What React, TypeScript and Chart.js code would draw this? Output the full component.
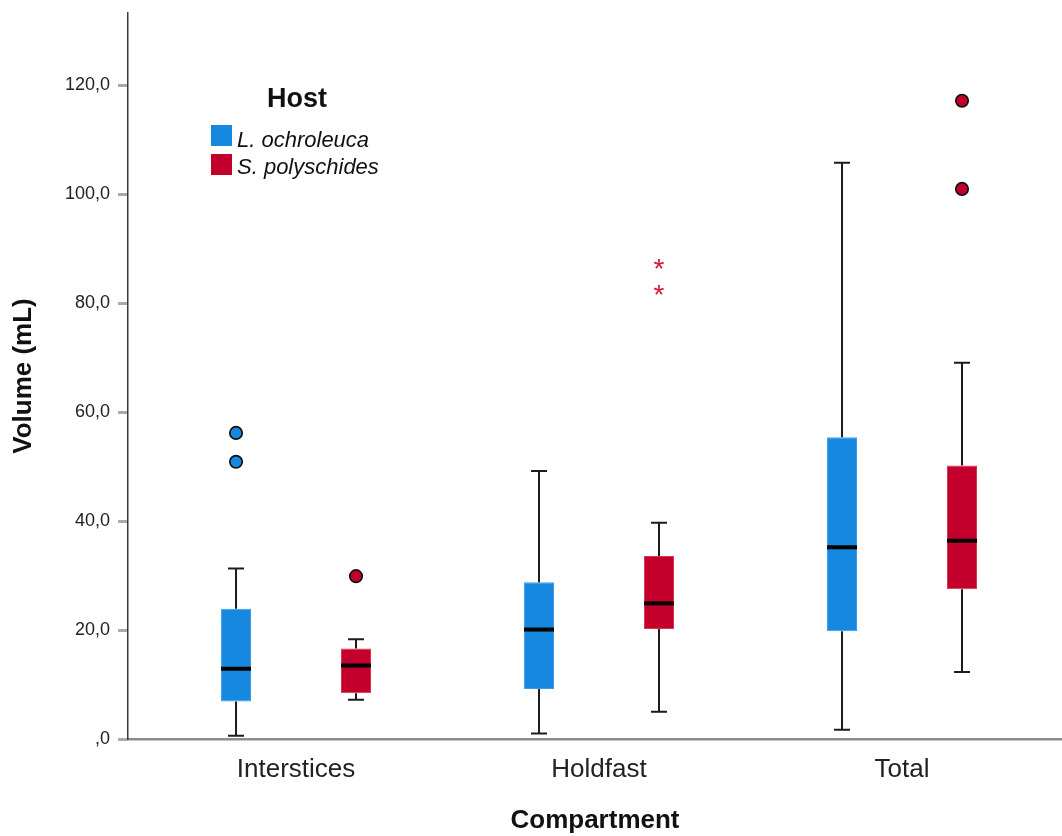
import React, { useEffect, useRef } from 'react';
import { Chart, registerables } from 'chart.js';

Chart.register(...registerables);

// ---- Data ----
const categories = ['Interstices', 'Holdfast', 'Total'];
const hostLabels = ['L. ochroleuca', 'S. polyschides'];

const lochMin = [0.6, 1.0, 1.7];
const lochQ1 = [6.9, 9.2, 19.8];
const lochMedian = [12.9, 20.1, 35.2];
const lochQ3 = [23.9, 28.8, 55.4];
const lochMax = [31.3, 49.2, 105.8];
const lochOutliers = [[56.2, 50.9], [], []];
const lochExtremes = [[], [], []];

const spolMin = [7.2, 5.0, 12.3];
const spolQ1 = [8.4, 20.2, 27.5];
const spolMedian = [13.5, 24.9, 36.4];
const spolQ3 = [16.6, 33.6, 50.2];
const spolMax = [18.3, 39.7, 69.1];
const spolOutliers = [[29.9], [], [117.2, 101.0]];
const spolExtremes = [[], [87.2, 82.4], []];

const yTicks = [0, 20, 40, 60, 80, 100, 120];

// ---- Styles ----
const FONT = '"Liberation Sans", Arial, Helvetica, sans-serif';
const BLUE = '#1788df';
const BLUE_EDGE = '#3d9ce8';
const RED = '#c3002b';
const RED_EDGE = '#d8334f';
const STAR_RED = '#d3173d';

const series = [
  { label: hostLabels[0], color: BLUE, edge: BLUE_EDGE, min: lochMin, q1: lochQ1, med: lochMedian, q3: lochQ3, max: lochMax, out: lochOutliers, ext: lochExtremes },
  { label: hostLabels[1], color: RED, edge: RED_EDGE, min: spolMin, q1: spolQ1, med: spolMedian, q3: spolQ3, max: spolMax, out: spolOutliers, ext: spolExtremes },
];

const boxExtras = {
  id: 'boxExtras',
  afterDatasetsDraw(chart: any) {
    const ctx = chart.ctx;
    const ys = chart.scales.y;
    series.forEach((s, di) => {
      const meta = chart.getDatasetMeta(di);
      meta.data.forEach((bar: any, i: number) => {
        const { x, width } = bar.getProps(['x', 'width'], true);
        const pMin = ys.getPixelForValue(s.min[i]);
        const pMax = ys.getPixelForValue(s.max[i]);
        const pQ1 = ys.getPixelForValue(s.q1[i]);
        const pQ3 = ys.getPixelForValue(s.q3[i]);
        const pMed = ys.getPixelForValue(s.med[i]);
        const cap = 8;
        ctx.save();
        ctx.strokeStyle = '#1c1c1c';
        ctx.lineWidth = 2;
        ctx.lineCap = 'butt';
        ctx.beginPath();
        ctx.moveTo(x, pQ3); ctx.lineTo(x, pMax);
        ctx.moveTo(x - cap, pMax); ctx.lineTo(x + cap, pMax);
        ctx.moveTo(x, pQ1); ctx.lineTo(x, pMin);
        ctx.moveTo(x - cap, pMin); ctx.lineTo(x + cap, pMin);
        ctx.stroke();
        // median
        ctx.strokeStyle = '#000';
        ctx.lineWidth = 4;
        ctx.beginPath();
        ctx.moveTo(x - width / 2, pMed); ctx.lineTo(x + width / 2, pMed);
        ctx.stroke();
        // outliers (circles)
        s.out[i].forEach((v: number) => {
          const py = ys.getPixelForValue(v);
          ctx.beginPath();
          ctx.arc(x, py, 6.2, 0, Math.PI * 2);
          ctx.fillStyle = s.color;
          ctx.fill();
          ctx.lineWidth = 1.7;
          ctx.strokeStyle = '#111';
          ctx.stroke();
        });
        // extremes (asterisks)
        s.ext[i].forEach((v: number) => {
          const py = ys.getPixelForValue(v);
          ctx.font = '28px ' + FONT;
          ctx.fillStyle = STAR_RED;
          ctx.textAlign = 'center';
          ctx.textBaseline = 'alphabetic';
          const m = ctx.measureText('*');
          const off = (m.actualBoundingBoxAscent - m.actualBoundingBoxDescent) / 2;
          ctx.fillText('*', x, py + off);
        });
        ctx.restore();
      });
    });
  },
  afterDraw(chart: any) {
    const ctx = chart.ctx;
    ctx.save();
    ctx.fillStyle = '#111';
    ctx.font = 'bold 27px ' + FONT;
    ctx.textAlign = 'left';
    ctx.textBaseline = 'alphabetic';
    ctx.fillText('Host', 267, 106.5);
    const rows = [
      { y: 125, base: 146.5 },
      { y: 154, base: 174 },
    ];
    series.forEach((s, i) => {
      ctx.fillStyle = s.color;
      ctx.fillRect(211, rows[i].y, 21, 21);
      ctx.fillStyle = '#111';
      ctx.font = 'italic 22px ' + FONT;
      ctx.fillText(s.label, 237, rows[i].base);
    });
    ctx.restore();
  },
};

export default function App() {
  const ref = useRef<HTMLCanvasElement | null>(null);

  useEffect(() => {
    if (!ref.current) return;
    const chart = new Chart(ref.current, {
      type: 'bar',
      data: {
        datasets: series.map((s) => ({
          label: s.label,
          data: categories.map((_, i) => ({ x: i, y: [s.q1[i], s.q3[i]] })) as any,
          backgroundColor: s.color,
          borderColor: s.edge,
          borderWidth: 1,
          borderSkipped: false,
          categoryPercentage: 0.792,
          barPercentage: 0.25,
        })),
      },
      options: {
        responsive: false,
        animation: false,
        devicePixelRatio: 1,
        layout: { padding: { top: 13, right: 0, bottom: 0, left: 0 } },
        plugins: {
          legend: { display: false },
          tooltip: { enabled: false },
        },
        scales: {
          x: {
            type: 'linear',
            min: -0.5545,
            max: 2.528,
            offset: false,
            afterBuildTicks: (scale: any) => {
              scale.ticks = categories.map((_, i) => ({ value: i }));
            },
            afterFit: (scale: any) => {
              scale.height = 97;
              scale.paddingLeft = 0;
              scale.paddingRight = 0;
            },
            ticks: {
              callback: (v: any) => categories[v] ?? '',
              font: { family: FONT, size: 26 },
              color: '#222',
              padding: 7,
              maxRotation: 0,
              autoSkip: false,
            },
            grid: { display: false, offset: false },
            border: { display: true, color: '#8c8c8c', width: 2.5 },
            title: {
              display: true,
              text: 'Compartment',
              font: { family: FONT, size: 26, weight: 'bold' },
              color: '#111',
              padding: { top: 0, bottom: 0 },
            },
          },
          y: {
            type: 'linear',
            min: 0,
            max: 133.3,
            afterBuildTicks: (scale: any) => {
              scale.ticks = yTicks.map((v) => ({ value: v }));
            },
            afterFit: (scale: any) => {
              scale.width = 128;
              scale.paddingTop = 0;
              scale.paddingBottom = 0;
            },
            ticks: {
              callback: (v: any) => (v === 0 ? ',0' : Number(v).toFixed(1).replace('.', ',')),
              font: { family: FONT, size: 18 },
              color: '#222',
              padding: 8,
            },
            grid: {
              display: true,
              drawOnChartArea: false,
              drawTicks: true,
              tickLength: 10,
              tickColor: '#aaaaaa',
              tickWidth: 3,
            },
            border: { display: true, color: '#3a3a3a', width: 1.5 },
            title: {
              display: true,
              text: 'Volume (mL)',
              font: { family: FONT, size: 26, weight: 'bold' },
              color: '#111',
              padding: { top: 8, bottom: 0 },
            },
          },
        },
      } as any,
      plugins: [boxExtras],
    });
    return () => chart.destroy();
  }, []);

  return (
    <div style={{ position: 'absolute', left: 0, top: 0, width: 1062, height: 836, background: '#fff' }}>
      <canvas ref={ref} width={1062} height={836} style={{ display: 'block' }} />
    </div>
  );
}
